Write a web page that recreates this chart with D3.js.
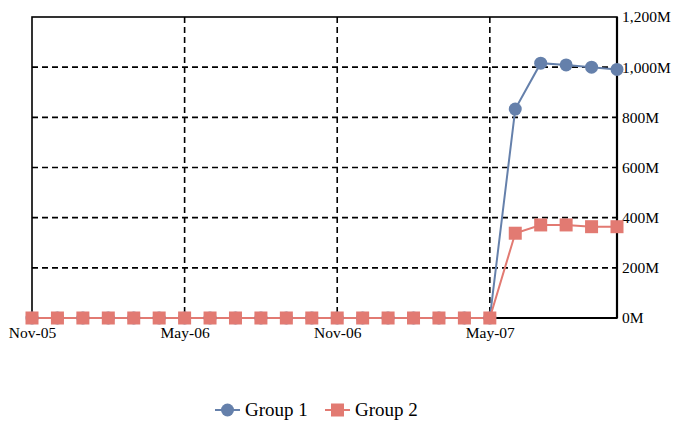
<!DOCTYPE html>
<html><head><meta charset="utf-8">
<script src="https://cdn.jsdelivr.net/npm/d3@7"></script>
<style>body{margin:0;background:#fff}svg{display:block}</style>
</head><body><svg id="c" width="673" height="421"></svg>
<script>
const months = ["Nov-05","Dec-05","Jan-06","Feb-06","Mar-06","Apr-06","May-06","Jun-06","Jul-06","Aug-06","Sep-06","Oct-06","Nov-06","Dec-06","Jan-07","Feb-07","Mar-07","Apr-07","May-07","Jun-07","Jul-07","Aug-07","Sep-07","Oct-07"];
const group1 = [0,0,0,0,0,0,0,0,0,0,0,0,0,0,0,0,0,0,0,833,1016,1009,1000,991];
const group2 = [0,0,0,0,0,0,0,0,0,0,0,0,0,0,0,0,0,0,0,338,371,371,364,364];
const xTickLabels = ["Nov-05","May-06","Nov-06","May-07"];
const yTicks = [0,200,400,600,800,1000,1200];
const seriesNames = ["Group 1","Group 2"];
const colors = ["#6580AB","#E27A72"];

const svg = d3.select("#c");
const L=32,R=617,T=17,B=318;
const x = d3.scalePoint().domain(months).range([L,R]);
const y = d3.scaleLinear().domain([0,1200]).range([B,T]);
const font = "'Liberation Serif','Times New Roman',serif";

// grid
svg.append("g").selectAll("line").data(yTicks.filter(v=>v>0&&v<1200)).join("line")
  .attr("x1",L).attr("x2",R).attr("y1",d=>y(d)).attr("y2",d=>y(d))
  .attr("stroke","#000").attr("stroke-width",1.6).attr("stroke-dasharray","6,4");
svg.append("g").selectAll("line").data(xTickLabels.slice(1)).join("line")
  .attr("x1",d=>x(d)).attr("x2",d=>x(d)).attr("y1",T).attr("y2",B)
  .attr("stroke","#000").attr("stroke-width",1.6).attr("stroke-dasharray","6,4");

// frame
svg.append("rect").attr("x",L).attr("y",T).attr("width",R-L).attr("height",B-T)
  .attr("fill","none").attr("stroke","#000").attr("stroke-width",1.6);
svg.append("line").attr("x1",R).attr("x2",R).attr("y1",T).attr("y2",B).attr("stroke","#000").attr("stroke-width",2.2);
svg.append("line").attr("x1",L).attr("x2",R).attr("y1",B).attr("y2",B).attr("stroke","#000").attr("stroke-width",2.2);

// right axis
const yAxis = d3.axisRight(y).tickValues(yTicks).tickSize(0).tickPadding(5)
  .tickFormat(d=>d3.format(",")(d)+"M");
const ya = svg.append("g").attr("transform",`translate(${R},0)`).call(yAxis);
ya.select(".domain").remove();
ya.selectAll("text").attr("font-family",font).attr("font-size",15.5).attr("fill","#000");

// bottom axis
const xAxis = d3.axisBottom(x).tickValues(xTickLabels).tickSize(0).tickPadding(9);
const xa = svg.append("g").attr("transform",`translate(0,${B})`).call(xAxis);
xa.select(".domain").remove();
xa.selectAll("text").attr("font-family",font).attr("font-size",15.5).attr("fill","#000");

const line = d3.line().x((d,i)=>x(months[i])).y(d=>y(d));
[group1,group2].forEach((s,k)=>{
  svg.append("path").datum(s).attr("d",line).attr("fill","none")
    .attr("stroke",colors[k]).attr("stroke-width",2);
});
svg.append("g").selectAll("circle").data(group1).join("circle")
  .attr("cx",(d,i)=>x(months[i])).attr("cy",d=>y(d)).attr("r",6.5).attr("fill",colors[0]);
svg.append("g").selectAll("rect").data(group2).join("rect")
  .attr("x",(d,i)=>x(months[i])-6.5).attr("y",d=>y(d)-6.5).attr("width",13).attr("height",13).attr("fill",colors[1]);

// legend
const lg = svg.append("g").attr("transform","translate(0,410)");
lg.append("line").attr("x1",215).attr("x2",240).attr("y1",0).attr("y2",0).attr("stroke",colors[0]).attr("stroke-width",2);
lg.append("circle").attr("cx",227.5).attr("cy",0).attr("r",6.5).attr("fill",colors[0]);
lg.append("text").attr("x",245).attr("y",6).text(seriesNames[0]).attr("font-family",font).attr("font-size",19);
lg.append("line").attr("x1",325).attr("x2",350).attr("y1",0).attr("y2",0).attr("stroke",colors[1]).attr("stroke-width",2);
lg.append("rect").attr("x",331).attr("y",-6.5).attr("width",13).attr("height",13).attr("fill",colors[1]);
lg.append("text").attr("x",355).attr("y",6).text(seriesNames[1]).attr("font-family",font).attr("font-size",19);
</script></body></html>
